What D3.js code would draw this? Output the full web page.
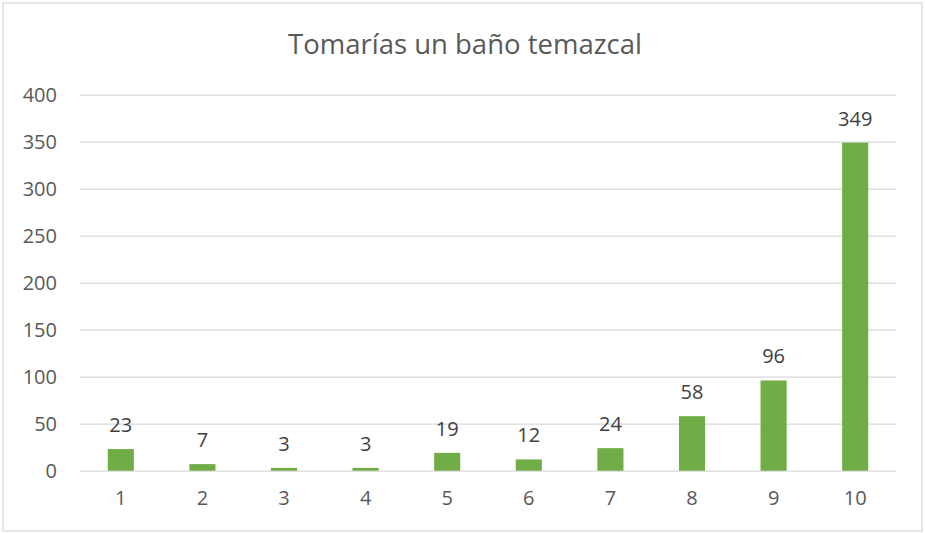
<!DOCTYPE html>
<html>
<head>
<meta charset="utf-8">
<script src="https://cdn.jsdelivr.net/npm/d3@7"></script>
<style>
    body { margin: 0; background: #fff; }
    text { font-family: "Open Sans", "Liberation Sans", sans-serif; }
</style>
</head>
<body>
<svg id="chart" width="925" height="533"></svg>
<script>
const title = "Tomarías un baño temazcal";
const categories = ["1", "2", "3", "4", "5", "6", "7", "8", "9", "10"];
const counts = [23, 7, 3, 3, 19, 12, 24, 58, 96, 349];
const yTicks = [0, 50, 100, 150, 200, 250, 300, 350, 400];

/** Class drawing the bar chart. */
class BarChart {
    /**
     * Creates the chart with its scales
     */
    constructor() {
        this.svg = d3.select('#chart');
        this.x = d3.scaleBand().domain(categories).range([80, 896])
            .paddingInner(0.68).paddingOuter(0.34);
        this.y = d3.scaleLinear().domain([0, 400]).range([470.7, 94.7]);
    }

    /**
     * Draws border, title, grid, axes, bars and labels
     */
    draw() {
        const svg = this.svg;

        svg.append('rect')
            .attr('x', 3).attr('y', 3)
            .attr('width', 919).attr('height', 528)
            .attr('fill', '#fff')
            .attr('stroke', '#d9d9d9')
            .attr('stroke-width', 1.3);

        svg.append('text')
            .attr('x', 465).attr('y', 54)
            .attr('text-anchor', 'middle')
            .attr('font-size', '27.5px')
            .attr('fill', '#595959')
            .text(title);

        // gridlines + y labels through an axis
        const yAxis = svg.append('g')
            .attr('transform', 'translate(80,0)')
            .call(d3.axisLeft(this.y).tickValues(yTicks).tickSize(-816).tickPadding(23));
        yAxis.select('.domain').remove();
        yAxis.selectAll('.tick line').attr('stroke', '#d9d9d9').attr('stroke-width', 1.3);
        yAxis.selectAll('.tick text')
            .attr('font-size', '20px')
            .attr('fill', '#595959')
            .attr('font-family', '"Open Sans", sans-serif');

        const xAxis = svg.append('g')
            .attr('transform', 'translate(0,' + this.y(0) + ')')
            .call(d3.axisBottom(this.x).tickSize(0).tickPadding(20));
        xAxis.select('.domain').remove();
        xAxis.selectAll('.tick text')
            .attr('font-size', '20px')
            .attr('fill', '#595959')
            .attr('font-family', '"Open Sans", sans-serif');

        svg.append('g').selectAll('rect')
            .data(counts)
            .enter()
            .append('rect')
            .attr('x', (d, i) => this.x(categories[i]))
            .attr('y', d => this.y(d))
            .attr('width', this.x.bandwidth())
            .attr('height', d => this.y(0) - this.y(d))
            .attr('fill', '#70ad47');

        svg.append('g').selectAll('text')
            .data(counts)
            .enter()
            .append('text')
            .attr('x', (d, i) => this.x(categories[i]) + this.x.bandwidth() / 2)
            .attr('y', d => this.y(d) - 17)
            .attr('text-anchor', 'middle')
            .attr('font-size', '20px')
            .attr('fill', '#404040')
            .text(d => d);
    }
}

const chart = new BarChart();
chart.draw();
</script>
</body>
</html>
